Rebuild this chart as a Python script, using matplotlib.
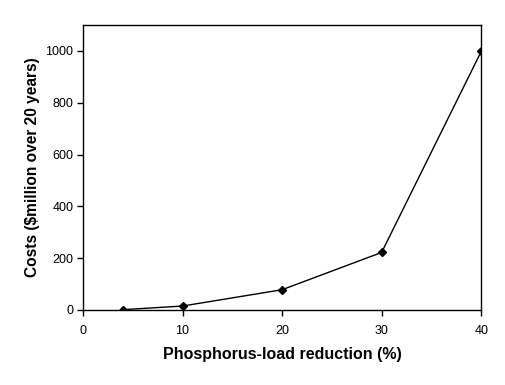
import matplotlib
matplotlib.use('Agg')
import matplotlib.pyplot as plt

reduction = [4, 10, 20, 30, 40]
costs = [1, 15, 78, 222, 998]

plt.rcParams['font.family'] = ['Liberation Sans', 'DejaVu Sans']

fig = plt.figure(figsize=(5.06, 3.85), dpi=100)
ax = fig.add_axes([0.164, 0.195, 0.787, 0.74])
ax.plot(reduction, costs, color='black', linewidth=1, marker='D', markersize=4)
ax.set_xlim(0, 40)
ax.set_ylim(0, 1100)
ax.set_xticks([0, 10, 20, 30, 40])
ax.set_yticks([0, 200, 400, 600, 800, 1000])
ax.tick_params(direction='out', length=4, width=1, labelsize=9)
ax.tick_params(axis='x', pad=7)
ax.tick_params(axis='y', pad=3)
for s in ax.spines.values():
    s.set_linewidth(1)
ax.set_xlabel('Phosphorus-load reduction (%)', fontsize=11.5, fontweight='bold', labelpad=7)
ax.set_ylabel('Costs ($million over 20 years)', fontsize=11.2, fontweight='bold', labelpad=4)
fig.savefig('out.png', dpi=100)
